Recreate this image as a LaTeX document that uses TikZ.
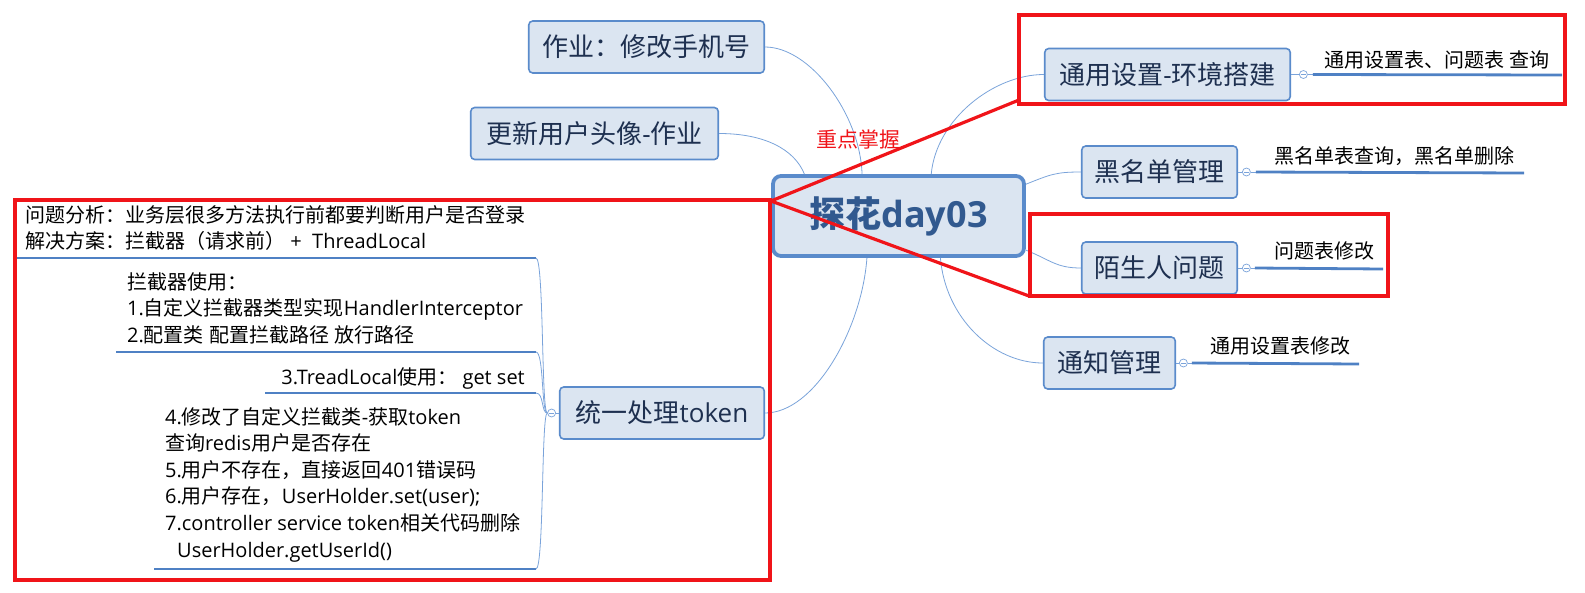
\documentclass[tikz,border=0pt]{standalone}
\usepackage{fontspec}
\setmainfont{Open Sans}
\newfontfamily\cjkfont{Noto Sans CJK SC}
\newfontfamily\latfont{Open Sans}
\usetikzlibrary{positioning}
% switch to the CJK font for Chinese characters
\XeTeXinterchartokenstate=1
\newXeTeXintercharclass\cjkclass
\newcount\cjkcnt
\newcommand{\setcjkrange}[2]{\cjkcnt=#1\relax
  \loop\XeTeXcharclass\cjkcnt=\cjkclass
  \ifnum\cjkcnt<#2\relax\advance\cjkcnt by 1\repeat}
\setcjkrange{"3000}{"303F}
\setcjkrange{"4E00}{"9FFF}
\setcjkrange{"FF00}{"FFEF}
\XeTeXinterchartoks 0 \cjkclass = {\cjkfont}
\XeTeXinterchartoks 4095 \cjkclass = {\cjkfont}
\XeTeXinterchartoks \cjkclass 0 = {\latfont}
\XeTeXinterchartoks \cjkclass 4095 = {\latfont}
\definecolor{nodefill}{HTML}{DBE5F1}
\definecolor{nodeline}{HTML}{5A8BCB}
\definecolor{nodetext}{HTML}{1E3050}
\definecolor{hubtext}{HTML}{31598F}
\definecolor{twigblue}{HTML}{7AA3DA}
\definecolor{leafblue}{HTML}{4F81C4}
\definecolor{hlred}{HTML}{F01419}
\begin{document}
\begin{tikzpicture}[x=1pt, y=-1pt,
  topic/.style={draw=nodeline, line width=1.6pt, fill=nodefill, rounded corners=4pt,
    text=nodetext, font=\fontsize{26}{30}\selectfont, minimum height=52pt, inner xsep=0pt},
  hubbox/.style={draw=nodeline, line width=3.8pt, fill=nodefill, rounded corners=8pt,
    text=hubtext, font=\fontsize{36}{40}\selectfont\bfseries, minimum width=251pt, minimum height=80pt},
  twig/.style={draw=twigblue, line width=0.8pt},
  leaf/.style={draw=leafblue, line width=2.8pt},
  leaftext/.style={inner sep=0pt, font=\fontsize{20}{26.6}\selectfont, text=black},
  fold/.style={circle, draw=twigblue, fill=white, line width=0.7pt, minimum size=8pt, inner sep=0pt,
    path picture={\draw[twigblue, line width=0.6pt] ([xshift=-2.2pt]path picture bounding box.center) -- ([xshift=2.2pt]path picture bounding box.center);}},
  hilite/.style={draw=hlred, line width=3.2pt}]

    \useasboundingbox (0,0) rectangle (1585,592);

    % central topic
    \node[hubbox] (hub) at (898.5,216) {探花day03};

    % topics on the left
    \node[topic, minimum width=235.5pt] (zuoye) at (646.5,47) {作业：修改手机号};
    \node[topic, minimum width=247.5pt] (avatar) at (594.5,133.5) {更新用户头像-作业};
    \node[topic, minimum width=204.5pt] (token) at (662,413) {统一处理token};

    % topics on the right
    \node[topic, minimum width=245.5pt] (env) at (1167.5,74.5) {通用设置-环境搭建};
    \node[topic, minimum width=155.5pt] (black) at (1159.5,172) {黑名单管理};
    \node[topic, minimum width=155.5pt] (stranger) at (1159.5,268) {陌生人问题};
    \node[topic, minimum width=131.5pt] (notice) at (1109.5,363) {通知管理};

    % connectors from the central topic
    \draw[twig] (zuoye.east) .. controls +(45,0) and +(-2,-60) .. (hub.131);
    \draw[twig] (avatar.east) .. controls +(45,0) and +(-10,-25) .. (hub.156);
    \draw[twig] (hub.52) .. controls +(5,-55) and +(-50,0) .. (env.west);
    \draw[twig] (hub.14) .. controls +(25,-10) and +(-25,0) .. (black.west);
    \draw[twig] (hub.-15) .. controls +(25,10) and +(-25,0) .. (stranger.west);
    \draw[twig] (hub.-45) .. controls +(5,60) and +(-50,0) .. (notice.west);
    \draw[twig] (hub.-127) .. controls +(-5,70) and +(50,0) .. (token.east);

    % fold marks
    \node[fold, right=8pt of env] (envf) {};
    \node[fold, right=4pt of black] (blackf) {};
    \node[fold, right=4pt of stranger] (strangerf) {};
    \node[fold, right=3pt of notice] (noticef) {};
    \node[fold, left=3pt of token] (tokenf) {};
    \draw[twig] (env.east) -- (envf.west);
    \draw[twig] (black.east) -- (blackf.west);
    \draw[twig] (stranger.east) -- (strangerf.west);
    \draw[twig] (notice.east) -- (noticef.west);
    \draw[twig] (token.west) -- (tokenf.east);

    % leaves on the right
    \coordinate (envend) at (1562,75);
    \coordinate (blackend) at (1524,173);
    \coordinate (strangerend) at (1383,269);
    \coordinate (noticeend) at (1359,364);
    \draw[twig] (envf.east) -- ++(5,0) coordinate (envleaf);
    \draw[leaf] (envleaf) -- (envend);
    \draw[twig] (blackf.east) -- ++(5,0) coordinate (blackleaf);
    \draw[leaf] (blackleaf) -- (blackend);
    \draw[twig] (strangerf.east) -- ++(4,0) coordinate (strangerleaf);
    \draw[leaf] (strangerleaf) -- (strangerend);
    \draw[twig] (noticef.east) -- ++(4,0) coordinate (noticeleaf);
    \draw[leaf] (noticeleaf) -- (noticeend);
    \node[leaftext, anchor=base west] (envtxt) at (1324,67) {通用设置表、问题表 查询};
    \node[leaftext, anchor=base west] (blacktxt) at (1274,163) {黑名单表查询，黑名单删除};
    \node[leaftext, anchor=base west] (strangertxt) at (1274,258) {问题表修改};
    \node[leaftext, anchor=base west] (noticetxt) at (1210,353) {通用设置表修改};

    % leaves of the token topic
    \coordinate (w1a) at (15,258);  \coordinate (w1b) at (536,258);
    \coordinate (w2a) at (116,352); \coordinate (w2b) at (536,352);
    \coordinate (w3a) at (265,393); \coordinate (w3b) at (536,393);
    \coordinate (w4a) at (154,569); \coordinate (w4b) at (536,569);
    \foreach \w in {w1,w2,w3,w4} {
        \draw[leaf] (\w a) -- (\w b);
        \draw[twig] (tokenf.west) .. controls +(-6,0) and +(8,0) .. (\w b);
    }
    \node[leaftext, align=left, anchor=north west] (why) at (25,205)
        {问题分析：业务层很多方法执行前都要判断用户是否登录\\解决方案：拦截器（请求前） + \ ThreadLocal};
    \node[leaftext, align=left, anchor=north west] (usage) at (127,272)
        {拦截器使用：\\1.自定义拦截器类型实现HandlerInterceptor\\2.配置类 配置拦截路径 放行路径};
    \node[leaftext, anchor=base east] (tlocal) at (525,384) {3.TreadLocal使用：\ get set};
    \node[leaftext, align=left, anchor=north west] (steps) at (165,407)
        {4.修改了自定义拦截类-获取token\\查询redis用户是否存在\\5.用户不存在，直接返回401错误码\\6.用户存在，UserHolder.set(user);\\7.controller service token相关代码删除\\\hspace*{12pt}UserHolder.getUserId()};

    % red highlights
    \draw[hilite] (1019,15) rectangle (1565,104);
    \draw[hilite] (1030,214) rectangle (1388,296);
    \draw[hilite] (15,200) rectangle (770,580);
    \coordinate (tip) at (771,201);
    \draw[hilite] (1019,100) -- (tip) -- (1029,296);
    \node[text=hlred, font=\fontsize{21}{24}\selectfont] (keypoint) at (858,140) {重点掌握};

\end{tikzpicture}
\end{document}
